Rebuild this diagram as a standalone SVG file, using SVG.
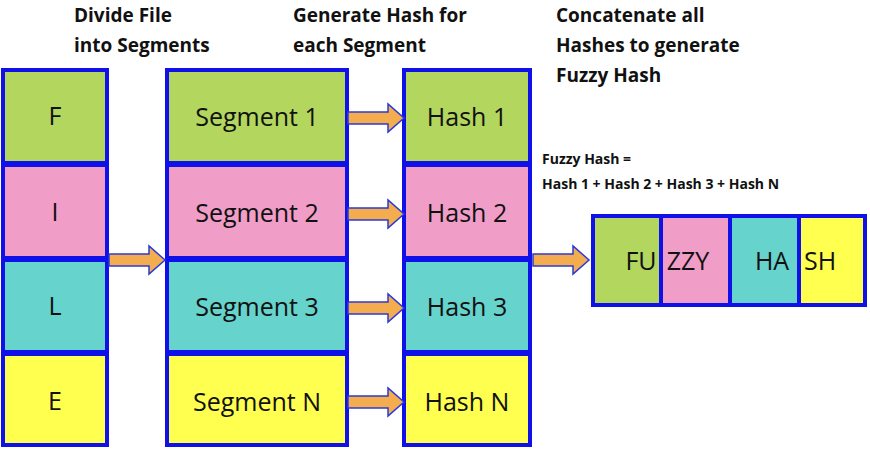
<svg xmlns="http://www.w3.org/2000/svg" width="870" height="450" viewBox="0 0 870 450">
<style>
.b{stroke:#1010e8;stroke-width:4}
.g{fill:#b2d65e}.p{fill:#f09dc8}.c{fill:#66d3cc}.y{fill:#ffff50}
.t{font-family:"Open Sans","Liberation Sans",sans-serif;font-size:25px;fill:#111;text-anchor:middle}
.h{font-family:"Open Sans","Liberation Sans",sans-serif;font-size:19px;font-weight:bold;fill:#111}
.s{font-family:"Open Sans","Liberation Sans",sans-serif;font-size:14px;font-weight:bold;fill:#111}
.a{fill:#f3ad4f;stroke:#2a3ad8;stroke-width:1.5}
</style>
<defs><path id="ar" d="M0,-6 H40 V-14 L56,0 L40,14 V6 H0 Z"/></defs>
<g id="headers">
<text class="h" x="74" y="22">Divide File</text>
<text class="h" x="74" y="52">into Segments</text>
<text class="h" x="293" y="22">Generate Hash for</text>
<text class="h" x="293" y="52">each Segment</text>
<text class="h" x="556" y="22">Concatenate all</text>
<text class="h" x="556" y="52">Hashes to generate</text>
<text class="h" x="556" y="82">Fuzzy Hash</text>
<text class="s" x="542" y="164">Fuzzy Hash =</text>
<text class="s" x="542" y="189">Hash 1 + Hash 2 + Hash 3 + Hash N</text>
</g>
<g id="file">
<rect class="b g" x="3" y="70" width="104" height="93"/><text class="t" x="55" y="125">F</text>
<rect class="b p" x="3" y="165" width="104" height="93"/><text class="t" x="55" y="221">I</text>
<rect class="b c" x="3" y="260" width="104" height="92"/><text class="t" x="55" y="315">L</text>
<rect class="b y" x="3" y="354" width="104" height="91"/><text class="t" x="55" y="410">E</text>
</g>
<g id="segments">
<rect class="b g" x="167" y="70" width="180" height="93"/><text class="t" x="257" y="126">Segment 1</text>
<rect class="b p" x="167" y="165" width="180" height="93"/><text class="t" x="257" y="222">Segment  2</text>
<rect class="b c" x="167" y="260" width="180" height="92"/><text class="t" x="257" y="316">Segment  3</text>
<rect class="b y" x="167" y="354" width="180" height="91"/><text class="t" x="257" y="411">Segment  N</text>
</g>
<g id="hashes">
<rect class="b g" x="404" y="70" width="126" height="93"/><text class="t" x="467" y="126">Hash 1</text>
<rect class="b p" x="404" y="165" width="126" height="93"/><text class="t" x="467" y="222">Hash 2</text>
<rect class="b c" x="404" y="260" width="126" height="92"/><text class="t" x="467" y="316">Hash 3</text>
<rect class="b y" x="404" y="354" width="126" height="91"/><text class="t" x="467" y="411">Hash N</text>
</g>
<g id="fuzzy">
<rect class="b g" x="593" y="216" width="68" height="89"/>
<rect class="b p" x="661" y="216" width="69" height="89"/>
<rect class="b c" x="730" y="216" width="69" height="89"/>
<rect class="b y" x="799" y="216" width="66" height="89"/>
<text class="t" x="641" y="270">FU</text>
<text class="t" x="688" y="270">ZZY</text>
<text class="t" x="772" y="270">HA</text>
<text class="t" x="820" y="270">SH</text>
</g>
<g id="connectors">
<use href="#ar" class="a" x="348" y="118"/>
<use href="#ar" class="a" x="348" y="214"/>
<use href="#ar" class="a" x="348" y="308"/>
<use href="#ar" class="a" x="348" y="402"/>
<use href="#ar" class="a" x="109" y="260"/>
<use href="#ar" class="a" x="533" y="260"/>
</g>
</svg>
